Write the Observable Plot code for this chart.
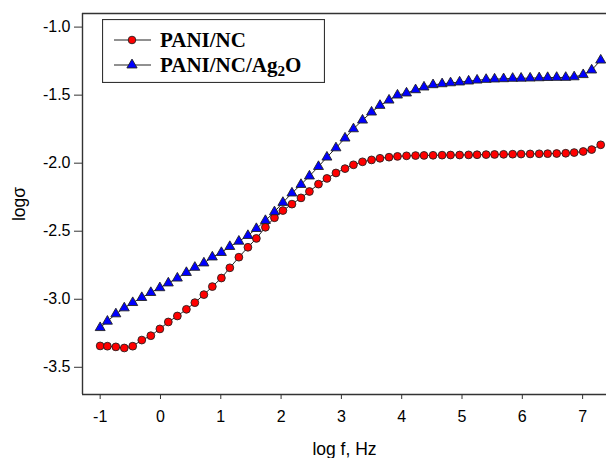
<!DOCTYPE html>
<html>
<head>
<meta charset="utf-8">
<script src="https://cdn.jsdelivr.net/npm/d3@7"></script>
<script src="https://cdn.jsdelivr.net/npm/@observablehq/plot@0.6"></script>
<style>
  html, body { margin: 0; padding: 0; background: #fff; }
  #chart { position: relative; width: 606px; height: 458px; overflow: hidden; }
  #legend { position: absolute; left: 102px; top: 19px; }
</style>
</head>
<body>
<div id="chart"></div>
<script>
// Frequency sweep (log10 of f in Hz)
const logF = [
  -1.00, -0.88, -0.74, -0.60, -0.46, -0.31, -0.16, -0.01, 0.13, 0.28,
  0.43, 0.57, 0.72, 0.86, 1.01, 1.15, 1.30, 1.45, 1.59, 1.74,
  1.89, 2.03, 2.18, 2.33, 2.47, 2.62, 2.76, 2.91, 3.06, 3.20,
  3.35, 3.50, 3.64, 3.79, 3.93, 4.08, 4.23, 4.37, 4.52, 4.67,
  4.81, 4.96, 5.11, 5.25, 5.40, 5.54, 5.69, 5.84, 5.98, 6.13,
  6.28, 6.42, 6.57, 6.72, 6.86, 7.01, 7.15, 7.30
];

// log σ for PANI/NC
const sigmaPaniNC = [
  -3.343, -3.345, -3.350, -3.358, -3.345, -3.300, -3.268, -3.218, -3.167, -3.123,
  -3.074, -3.025, -2.966, -2.907, -2.844, -2.769, -2.691, -2.618, -2.553, -2.471,
  -2.401, -2.348, -2.301, -2.255, -2.208, -2.154, -2.112, -2.072, -2.040, -2.012,
  -1.990, -1.976, -1.964, -1.956, -1.950, -1.946, -1.944, -1.943, -1.942, -1.941,
  -1.940, -1.940, -1.939, -1.938, -1.937, -1.936, -1.935, -1.934, -1.933, -1.932,
  -1.931, -1.930, -1.929, -1.927, -1.922, -1.914, -1.900, -1.865
];

// log σ for PANI/NC/Ag2O
const sigmaPaniNCAg = [
  -3.209, -3.162, -3.108, -3.064, -3.025, -2.988, -2.951, -2.916, -2.881, -2.845,
  -2.804, -2.766, -2.734, -2.690, -2.657, -2.613, -2.574, -2.532, -2.481, -2.422,
  -2.358, -2.289, -2.220, -2.157, -2.095, -2.025, -1.956, -1.888, -1.816, -1.748,
  -1.684, -1.625, -1.576, -1.537, -1.500, -1.485, -1.461, -1.441, -1.424, -1.417,
  -1.410, -1.404, -1.397, -1.390, -1.385, -1.382, -1.380, -1.377, -1.376, -1.375,
  -1.373, -1.371, -1.370, -1.370, -1.366, -1.350, -1.316, -1.243
];

const seriesNames = ["PANI/NC", "PANI/NC/Ag2O"];
const xTicks = [-1, 0, 1, 2, 3, 4, 5, 6, 7];
const yTicks = [-1.0, -1.5, -2.0, -2.5, -3.0, -3.5];
const xLabel = "log f, Hz";
const yLabel = "logσ";
const xDomain = [-1.293, 7.396];
const yDomain = [-3.7, -0.9];

const rowsNC = logF.map((f, i) => ({f, v: sigmaPaniNC[i], s: seriesNames[0]}));
const rowsAg = logF.map((f, i) => ({f, v: sigmaPaniNCAg[i], s: seriesNames[1]}));

const axisColor = "#333";
const font = "'Liberation Sans', Arial, sans-serif";

const plot = Plot.plot({
  width: 606,
  height: 458,
  marginLeft: 82,
  marginRight: 0,
  marginTop: 13,
  marginBottom: 64,
  style: {fontFamily: font, fontSize: "15px", color: "#000", background: "#fff"},
  x: {domain: xDomain},
  y: {domain: yDomain},
  marks: [
    // frame: left, top and bottom edges
    Plot.ruleX([xDomain[0]], {stroke: axisColor, strokeWidth: 1.4}),
    Plot.ruleY([yDomain[1]], {stroke: axisColor, strokeWidth: 1.4}),
    Plot.ruleY([yDomain[0]], {stroke: axisColor, strokeWidth: 1.4}),
    // tick marks and tick labels
    Plot.axisX({
      ticks: xTicks, tickFormat: d => String(d), tickSize: 5, tickPadding: 11,
      stroke: axisColor, fill: "#000", fontSize: 16, label: null
    }),
    Plot.axisY({
      ticks: yTicks, tickFormat: d => d.toFixed(1), tickSize: 8, tickPadding: 4,
      stroke: axisColor, fill: "#000", fontSize: 16, label: null
    }),
    // axis titles
    Plot.axisX({
      ticks: [], fill: "#000", fontSize: 17.5,
      label: xLabel, labelAnchor: "center", labelOffset: 60, labelArrow: "none"
    }),
    Plot.axisY({
      ticks: [], fill: "#000", fontSize: 17.5,
      label: yLabel, labelAnchor: "center", labelOffset: 70, labelArrow: "none"
    }),
    Plot.line(rowsNC, {x: "f", y: "v", stroke: "#222", strokeWidth: 1}),
    Plot.line(rowsAg, {x: "f", y: "v", stroke: "#222", strokeWidth: 1}),
    Plot.dot(rowsNC, {x: "f", y: "v", r: 3.9, fill: "#ff0000", stroke: "#222", strokeWidth: 0.9}),
    Plot.dot(rowsAg, {x: "f", y: "v", symbol: "triangle", r: 3.7, fill: "#0000ff", stroke: "#222", strokeWidth: 0.9})
  ]
});

const chart = document.getElementById("chart");
chart.appendChild(plot);

// Legend box over the upper-left of the plot
const lw = 223, lh = 64;
const legend = d3.create("svg")
  .attr("id", "legend")
  .attr("width", lw)
  .attr("height", lh);
legend.append("rect")
  .attr("x", 0.5).attr("y", 0.5)
  .attr("width", lw - 1).attr("height", lh - 1)
  .attr("fill", "#fff").attr("stroke", "#333").attr("stroke-width", 1.2);

const entries = [
  {label: seriesNames[0], symbol: d3.symbolCircle, fill: "#ff0000"},
  {label: seriesNames[1], symbol: d3.symbolTriangle, fill: "#0000ff"}
];
entries.forEach((e, i) => {
  const cy = 21 + i * 25;
  const g = legend.append("g");
  g.append("line")
    .attr("x1", 12).attr("x2", 49).attr("y1", cy).attr("y2", cy)
    .attr("stroke", "#222").attr("stroke-width", 1);
  g.append("path")
    .attr("transform", `translate(30,${cy})`)
    .attr("d", d3.symbol(e.symbol, Math.PI * 3.8 * 3.8)())
    .attr("fill", e.fill).attr("stroke", "#222").attr("stroke-width", 0.9);
  const t = g.append("text")
    .attr("x", 58).attr("y", cy + 7)
    .attr("font-family", "'Liberation Serif', 'Times New Roman', serif")
    .attr("font-weight", "bold").attr("font-size", 21).attr("fill", "#000");
  if (e.label.endsWith("Ag2O")) {
    t.append("tspan").text("PANI/NC/Ag");
    t.append("tspan").attr("font-size", 15).attr("dy", 4).text("2");
    t.append("tspan").attr("dy", -4).text("O");
  } else {
    t.text(e.label);
  }
});
chart.appendChild(legend.node());
</script>
</body>
</html>
